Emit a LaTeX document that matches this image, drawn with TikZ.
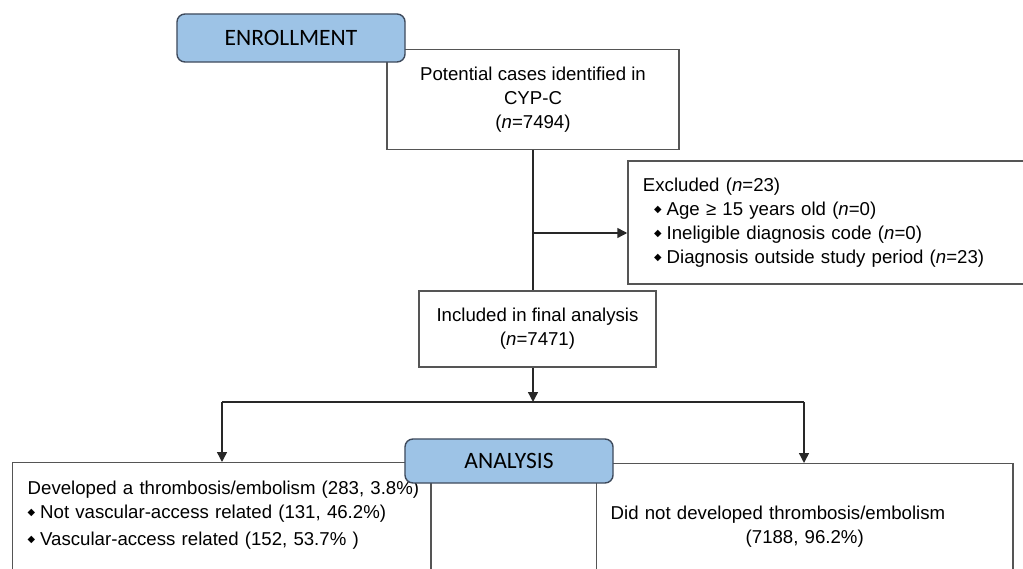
\documentclass[tikz,border=0pt]{standalone}
\usepackage{fontspec}
\setmainfont{Liberation Sans}
\newfontfamily\phasefont{Carlito}
\newfontfamily\symfont{DejaVu Sans}
\usetikzlibrary{arrows.meta, positioning}
\definecolor{phasefill}{RGB}{157,195,230}
\definecolor{phaseline}{RGB}{62,74,92}
\definecolor{boxline}{RGB}{85,85,85}
\definecolor{edgeline}{RGB}{40,40,40}
\newcommand{\bul}{{\symfont\fontsize{7}{7}\selectfont\raisebox{2pt}{◆}}\hspace{3.5pt}}
\tikzset{phase/.style = {shape=rectangle, rounded corners=0.2cm, draw=phaseline, fill=phasefill, line width=1pt, font=\phasefont\fontsize{16.7}{18}\selectfont}}
\tikzset{fbox/.style = {shape=rectangle, draw=boxline, fill=white, line width=1pt, font=\fontsize{13.25}{17.2}\selectfont}}
\tikzset{edge/.style = {-{Triangle[length=7pt,width=7pt]}, draw=edgeline, line width=1pt}}
\tikzset{plain/.style = {draw=edgeline, line width=1pt}}

\begin{document}
\begin{tikzpicture}[x=0.025cm,y=-0.025cm]
                \useasboundingbox (0,0) rectangle (1023,569);
                \node[fbox, minimum width=7.3cm, minimum height=2.5cm, align=center] (pot) at (533,99.5) {Potential cases identified in\\CYP-C\\(\textit{n}=7494)};
                \node[phase, minimum width=5.7cm, minimum height=1.2cm] (enr) at (291,38) {ENROLLMENT};
                \node[fbox, minimum width=10.3cm, minimum height=3.075cm, text width=9.55cm, align=left, inner xsep=0.375cm] (exc) at (834,222.5) {Excluded (\textit{n}=23)\\\hspace*{8pt}\bul Age ≥ 15 years old (\textit{n}=0)\\\hspace*{8pt}\bul Ineligible diagnosis code (\textit{n}=0)\\\hspace*{8pt}\bul Diagnosis outside study period (\textit{n}=23)};
                \node[fbox, minimum width=5.925cm, minimum height=1.9cm, align=center] (inc) at (537.5,329) {Included in final analysis\\(\textit{n}=7471)};
                \coordinate (brk) at (533,233);
                \coordinate (split) at (533,402);
                \coordinate (lft) at (222,402);
                \coordinate (rgt) at (804,402);
                \node[fbox, anchor=north west, minimum width=10.45cm, text width=9.7cm, align=left, inner xsep=0.375cm, inner ysep=13pt, text depth=70pt] (dev) at (12,462) {\mbox{Developed a thrombosis/embolism (283, 3.8\%)}\\\bul Not vascular-access related (131, 46.2\%)\\[2pt]\bul Vascular-access related (152, 53.7\% )};
                \node[fbox, anchor=north west, minimum width=10.4cm, text width=9.7cm, align=left, inner xsep=0.35cm, inner ysep=30pt, text depth=60pt] (nodev) at (596,463) {Did not developed thrombosis/embolism\\\hspace*{96pt}(7188, 96.2\%)};
                \node[phase, minimum width=5.2cm, minimum height=1.1cm] (ana) at (509,461) {ANALYSIS};
                \draw[plain] (pot.south -| brk) -- (brk |- inc.north);
                \draw[edge] (brk) -- (brk -| exc.west);
                \draw[edge] (split |- inc.south) -- (split);
                \draw[plain] (lft) -- (rgt);
                \draw[edge] (lft) -- (lft |- dev.north);
                \draw[edge] (rgt) -- (rgt |- nodev.north);
            \end{tikzpicture}
\end{document}
